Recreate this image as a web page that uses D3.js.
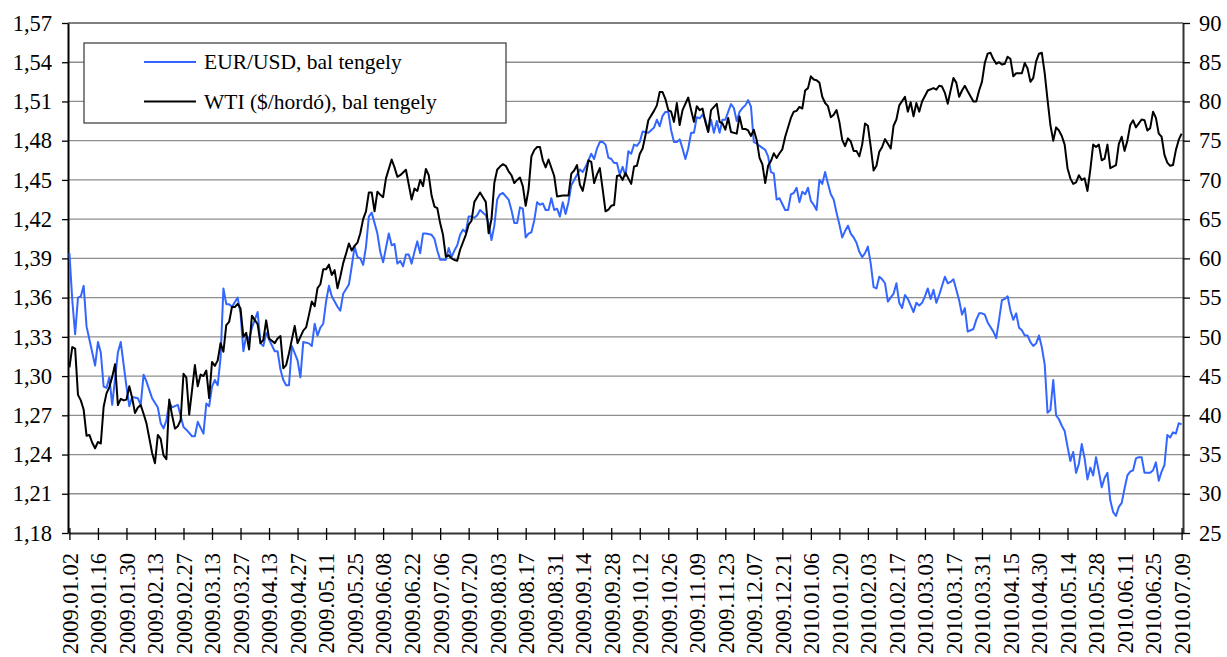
<!DOCTYPE html>
<html lang="hu">
<head>
    <meta charset="UTF-8">
    <title>EUR/USD es WTI</title>
    <script src="https://cdnjs.cloudflare.com/ajax/libs/d3/7.8.5/d3.min.js"></script>
    <style>
        body { margin: 0; background: #fff; }
        svg text { font-family: "Liberation Serif", "Times New Roman", serif; font-size: 21.5px; fill: #000; }
    </style>
</head>
<body>
<svg id="chart"></svg>
<script>

    // tick labels on the category axis, one every 10 trading days
    var xLabels = ["2009.01.02","2009.01.16","2009.01.30","2009.02.13","2009.02.27","2009.03.13","2009.03.27",
        "2009.04.13","2009.04.27","2009.05.11","2009.05.25","2009.06.08","2009.06.22","2009.07.06","2009.07.20",
        "2009.08.03","2009.08.17","2009.08.31","2009.09.14","2009.09.28","2009.10.12","2009.10.26","2009.11.09",
        "2009.11.23","2009.12.07","2009.12.21","2010.01.06","2010.01.20","2010.02.03","2010.02.17","2010.03.03",
        "2010.03.17","2010.03.31","2010.04.15","2010.04.30","2010.05.14","2010.05.28","2010.06.11","2010.06.25",
        "2010.07.09"];
    var leftTicks = [1.18,1.21,1.24,1.27,1.30,1.33,1.36,1.39,1.42,1.45,1.48,1.51,1.54,1.57];
    var rightTicks = [25,30,35,40,45,50,55,60,65,70,75,80,85,90];
    var seriesNames = ["EUR/USD, bal tengely", "WTI ($/hordó), bal tengely"];

    // [trading day index, value]
    var eurusd = [[0,1.394],[1,1.358],[2,1.332],[3,1.360],[4,1.361],[5,1.369],[6,1.338],[8,1.318],[9,1.308],[10,1.326],
        [11,1.318],[12,1.292],[13,1.291],[14,1.299],[15,1.278],[17,1.318],[18,1.326],[20,1.292],[21,1.277],[22,1.284],
        [24,1.283],[25,1.278],[26,1.301],[27,1.296],[29,1.283],[31,1.276],[32,1.264],[33,1.260],[34,1.266],[35,1.280],
        [36,1.276],[38,1.278],[40,1.261],[41,1.259],[43,1.254],[44,1.254],[45,1.265],[47,1.256],[48,1.279],[49,1.277],
        [50,1.292],[51,1.297],[52,1.293],[53,1.314],[54,1.367],[55,1.355],[56,1.355],[57,1.353],[59,1.360],[60,1.348],
        [61,1.319],[62,1.331],[63,1.328],[64,1.337],[66,1.349],[67,1.325],[68,1.323],[69,1.333],[70,1.328],[72,1.319],
        [73,1.319],[74,1.305],[75,1.297],[76,1.293],[77,1.293],[78,1.323],[80,1.312],[81,1.299],[82,1.326],[84,1.325],
        [85,1.323],[86,1.340],[87,1.331],[88,1.337],[89,1.340],[90,1.357],[91,1.369],[92,1.361],[94,1.353],[95,1.350],
        [96,1.363],[98,1.370],[99,1.384],[100,1.399],[101,1.391],[102,1.390],[103,1.385],[104,1.399],[105,1.422],[106,1.425],
        [108,1.409],[109,1.395],[110,1.387],[112,1.409],[113,1.400],[114,1.401],[115,1.386],[116,1.388],[117,1.384],[118,1.393],
        [119,1.393],[120,1.386],[121,1.395],[122,1.403],[123,1.394],[124,1.409],[125,1.409],[127,1.408],[128,1.405],[129,1.396],
        [130,1.389],[132,1.389],[133,1.398],[134,1.391],[135,1.396],[136,1.400],[137,1.408],[138,1.412],[139,1.410],[140,1.422],
        [141,1.422],[142,1.421],[143,1.423],[144,1.427],[146,1.423],[147,1.417],[148,1.404],[149,1.415],[150,1.435],[151,1.439],
        [152,1.440],[154,1.435],[155,1.427],[156,1.417],[157,1.417],[158,1.429],[159,1.428],[160,1.406],[161,1.409],[162,1.410],
        [163,1.419],[164,1.433],[165,1.431],[166,1.432],[167,1.427],[168,1.427],[169,1.436],[170,1.427],[171,1.428],[172,1.422],
        [173,1.433],[174,1.424],[175,1.433],[176,1.446],[177,1.450],[178,1.454],[179,1.458],[180,1.456],[181,1.460],[182,1.465],
        [183,1.470],[184,1.466],[185,1.474],[186,1.479],[187,1.479],[188,1.477],[189,1.467],[190,1.466],[191,1.463],[192,1.463],
        [193,1.454],[194,1.460],[195,1.453],[196,1.472],[197,1.470],[198,1.477],[199,1.476],[200,1.479],[201,1.487],[203,1.486],
        [204,1.488],[205,1.490],[206,1.496],[207,1.491],[208,1.499],[209,1.502],[210,1.502],[211,1.488],[212,1.479],[213,1.479],
        [214,1.481],[215,1.474],[216,1.466],[217,1.474],[218,1.486],[219,1.486],[220,1.498],[221,1.497],[222,1.500],[223,1.496],
        [224,1.487],[225,1.496],[226,1.486],[227,1.495],[228,1.486],[229,1.496],[230,1.496],[231,1.502],[232,1.508],[233,1.505],
        [234,1.495],[235,1.502],[236,1.505],[237,1.507],[238,1.511],[239,1.506],[240,1.479],[241,1.478],[242,1.476],[244,1.473],
        [245,1.468],[246,1.456],[247,1.455],[248,1.435],[249,1.436],[251,1.427],[252,1.427],[253,1.439],[254,1.440],[255,1.444],
        [256,1.433],[257,1.441],[258,1.439],[259,1.444],[260,1.434],[261,1.431],[262,1.427],[263,1.450],[264,1.447],[265,1.456],
        [266,1.447],[267,1.439],[268,1.435],[269,1.425],[270,1.416],[271,1.406],[272,1.411],[273,1.415],[274,1.409],[275,1.406],
        [276,1.402],[277,1.395],[278,1.391],[279,1.394],[280,1.399],[281,1.386],[282,1.368],[283,1.367],[284,1.376],[285,1.374],
        [286,1.371],[287,1.357],[288,1.360],[289,1.363],[290,1.371],[291,1.356],[292,1.352],[293,1.362],[294,1.359],[295,1.354],
        [296,1.349],[297,1.356],[298,1.354],[299,1.356],[300,1.361],[301,1.367],[302,1.359],[303,1.366],[304,1.356],[305,1.362],
        [307,1.376],[308,1.371],[309,1.372],[310,1.374],[311,1.366],[312,1.358],[313,1.347],[314,1.352],[315,1.334],[317,1.336],
        [318,1.343],[319,1.348],[320,1.348],[321,1.347],[322,1.341],[324,1.334],[325,1.329],[326,1.343],[327,1.358],[328,1.359],
        [329,1.361],[330,1.350],[331,1.343],[332,1.348],[333,1.337],[334,1.335],[335,1.331],[336,1.331],[337,1.326],[338,1.323],
        [339,1.325],[340,1.331],[341,1.322],[342,1.309],[343,1.272],[344,1.274],[345,1.297],[346,1.270],[347,1.267],[348,1.262],
        [349,1.258],[350,1.246],[351,1.235],[352,1.242],[353,1.226],[354,1.233],[355,1.248],[356,1.237],[357,1.221],[358,1.230],
        [359,1.224],[360,1.238],[361,1.227],[362,1.215],[363,1.222],[364,1.226],[365,1.205],[366,1.196],[367,1.193],[368,1.200],
        [369,1.203],[370,1.214],[371,1.224],[372,1.227],[373,1.228],[374,1.237],[375,1.238],[376,1.238],[377,1.226],[379,1.226],
        [380,1.228],[381,1.234],[382,1.220],[383,1.227],[384,1.232],[385,1.255],[386,1.253],[387,1.257],[388,1.256],[389,1.264],
        [390,1.263]];

    var wti = [[0,46.1],[1,48.7],[2,48.5],[3,42.6],[4,41.9],[5,40.7],[6,37.4],[7,37.5],[8,36.5],[9,35.8],[10,36.6],
        [11,36.4],[12,41.1],[13,42.8],[14,43.6],[15,44.9],[16,46.5],[17,41.3],[18,42.1],[19,41.9],[20,42.0],[21,43.7],
        [22,42.2],[23,40.3],[24,41.0],[25,41.3],[26,40.2],[27,39.0],[28,37.1],[29,35.2],[30,33.9],[31,37.5],[32,37.0],
        [33,34.9],[34,34.4],[35,42.0],[36,40.0],[37,38.3],[38,38.6],[39,39.4],[40,45.3],[41,44.8],[42,40.1],[43,43.2],
        [44,46.4],[45,43.7],[46,45.2],[47,45.0],[48,45.7],[49,42.2],[50,46.8],[51,46.3],[52,47.0],[53,49.2],[54,48.1],
        [55,51.5],[56,51.9],[57,53.8],[58,53.8],[59,54.2],[60,53.6],[61,50.0],[62,50.5],[63,48.4],[64,52.7],[66,51.6],
        [67,49.2],[68,49.6],[69,52.1],[70,49.8],[71,49.5],[72,49.2],[73,49.8],[74,50.1],[75,46.0],[76,46.4],[77,47.9],
        [79,51.4],[80,49.2],[81,50.0],[82,50.8],[83,51.2],[84,52.8],[85,54.5],[86,53.9],[87,56.2],[88,56.7],[89,58.6],
        [90,58.6],[91,59.2],[92,57.9],[93,58.5],[94,56.2],[95,57.7],[96,59.4],[97,60.6],[98,61.9],[99,61.0],[100,61.6],
        [101,62.0],[102,63.2],[103,65.0],[104,66.0],[105,68.4],[106,68.4],[107,66.0],[108,68.5],[109,68.1],[110,67.8],
        [111,70.2],[113,72.6],[114,71.6],[115,70.4],[116,70.6],[118,71.3],[120,67.5],[121,68.9],[122,68.6],[123,70.0],
        [124,69.2],[125,71.4],[126,70.6],[127,68.0],[128,66.6],[129,66.4],[130,64.5],[131,63.0],[132,60.2],[133,60.4],
        [134,60.0],[135,59.8],[136,59.7],[137,61.1],[139,63.0],[140,64.3],[141,64.8],[142,67.2],[143,67.8],[144,68.4],
        [145,67.8],[146,67.2],[147,63.2],[148,65.0],[149,69.6],[150,71.3],[151,71.7],[152,72.0],[153,71.8],[154,71.1],
        [155,70.6],[156,69.6],[157,70.0],[158,70.3],[159,69.2],[160,66.7],[161,68.8],[162,73.0],[163,73.8],[164,74.2],
        [165,74.2],[166,72.5],[167,71.6],[168,72.6],[170,70.5],[171,67.9],[173,68.0],[175,68.0],[176,70.8],[177,71.2],
        [178,71.9],[179,69.4],[180,68.6],[181,70.4],[182,72.5],[183,72.3],[184,69.6],[185,70.7],[186,71.5],[187,68.8],
        [188,66.0],[189,66.2],[190,66.7],[191,66.8],[192,70.5],[193,70.6],[194,70.0],[195,70.9],[197,69.5],[198,71.7],
        [199,71.8],[200,73.3],[201,74.0],[202,75.7],[203,77.6],[205,78.8],[206,79.5],[207,81.2],[208,81.2],[209,80.3],
        [210,78.9],[211,78.7],[212,77.4],[213,79.8],[214,77.0],[215,78.9],[217,80.5],[218,78.9],[219,77.4],[220,79.4],
        [221,78.9],[222,79.1],[223,77.4],[224,76.1],[225,78.9],[227,79.7],[228,77.4],[229,77.2],[230,76.4],[231,77.9],
        [232,76.1],[234,75.9],[235,78.1],[236,76.5],[237,76.5],[238,76.3],[239,75.6],[240,76.4],[241,75.1],[242,72.8],
        [243,72.0],[244,69.6],[245,71.8],[246,72.4],[247,73.4],[248,72.8],[249,73.4],[250,73.9],[251,75.5],[253,77.9],
        [254,78.7],[255,78.8],[256,79.3],[257,79.1],[258,81.4],[259,81.7],[260,83.2],[261,82.8],[262,82.7],[263,82.4],
        [264,80.6],[265,79.8],[266,79.4],[267,78.0],[268,78.3],[269,78.9],[270,77.4],[271,75.1],[272,74.3],[273,75.3],
        [274,74.9],[275,73.7],[276,73.7],[277,73.0],[278,74.5],[279,77.2],[280,76.9],[281,74.2],[282,71.2],[283,71.8],
        [284,73.6],[285,74.2],[286,75.2],[287,74.6],[288,74.0],[289,76.9],[290,77.7],[291,79.5],[293,80.6],[294,78.7],
        [295,79.9],[296,78.1],[297,79.8],[298,78.7],[299,80.0],[300,80.7],[301,81.4],[303,81.7],[304,81.5],[305,82.0],
        [306,81.9],[307,81.1],[308,79.7],[309,81.4],[310,83.0],[311,82.4],[312,80.6],[313,81.4],[314,82.0],[315,81.3],
        [317,80.0],[318,80.0],[319,81.4],[320,82.5],[321,84.9],[322,86.1],[323,86.2],[324,85.4],[325,84.8],[326,85.0],
        [327,84.7],[328,84.8],[329,85.7],[330,85.4],[331,83.2],[332,83.6],[333,83.6],[334,83.6],[335,84.9],[336,84.2],
        [337,82.5],[338,83.0],[339,85.1],[340,86.1],[341,86.2],[342,83.6],[343,80.2],[344,77.0],[345,75.0],[346,76.7],
        [347,76.3],[348,75.6],[349,74.5],[350,71.5],[351,70.2],[352,69.5],[353,69.7],[354,70.6],[355,70.0],[356,70.2],
        [357,68.6],[358,71.3],[359,74.5],[360,74.2],[361,74.5],[362,72.5],[363,72.7],[364,74.5],[365,71.5],[366,71.7],
        [367,71.9],[368,74.6],[369,75.5],[370,73.7],[371,75.0],[372,77.0],[373,77.6],[374,76.7],[375,77.2],[376,77.7],
        [377,77.6],[378,76.3],[379,76.6],[380,78.7],[381,77.9],[382,75.9],[383,75.5],[384,73.2],[385,72.2],[386,71.8],
        [387,71.9],[388,73.8],[389,75.1],[390,75.9]];

    var width = 1227, height = 657;
    var plotLeft = 68, plotRight = 1183, plotTop = 23, plotBottom = 533;
    var nDays = xLabels.length * 10 - 9;   // 391 trading days

    var svg = d3.select('#chart').attr('width', width).attr('height', height);

    var x = d3.scaleLinear().domain([-0.5, nDays - 0.5]).range([plotLeft, plotRight]);
    var yL = d3.scaleLinear().domain([1.18, 1.57]).range([plotBottom, plotTop]);
    var yR = d3.scaleLinear().domain([25, 90]).range([plotBottom, plotTop]);

    // horizontal grid
    svg.append('g').selectAll('line')
        .data(leftTicks.slice(1, -1))
        .enter().append('line')
        .attr('x1', plotLeft).attr('x2', plotRight)
        .attr('y1', function (d) { return yL(d); }).attr('y2', function (d) { return yL(d); })
        .style('stroke', '#8e8e8e').style('stroke-width', 1.3);

    // top frame line
    svg.append('line').attr('x1', plotLeft).attr('x2', plotRight).attr('y1', plotTop).attr('y2', plotTop)
        .style('stroke', '#000').style('stroke-width', 1.2);

    var gL = svg.append('g').attr('transform', 'translate(' + plotLeft + ',0)')
        .call(d3.axisLeft(yL).tickValues(leftTicks).tickSizeInner(6).tickSizeOuter(0).tickPadding(10)
            .tickFormat(function (d) { return d.toFixed(2).replace('.', ','); }));
    gL.select('.domain').style('stroke', '#000').style('stroke-width', 2);
    gL.selectAll('.tick line').style('stroke', '#000').style('stroke-width', 1.3);

    var gR = svg.append('g').attr('transform', 'translate(' + plotRight + ',0)')
        .call(d3.axisRight(yR).tickValues(rightTicks).tickSizeInner(7).tickSizeOuter(0).tickPadding(9));
    gR.select('.domain').style('stroke', '#333').style('stroke-width', 2);
    gR.selectAll('.tick line').style('stroke', '#000').style('stroke-width', 1.3);

    var gB = svg.append('g').attr('transform', 'translate(0,' + plotBottom + ')')
        .call(d3.axisBottom(x).tickValues(d3.range(0, nDays, 10)).tickSizeInner(7).tickSizeOuter(0)
            .tickFormat(function (d) { return xLabels[d / 10]; }));
    gB.select('.domain').style('stroke', '#333').style('stroke-width', 2);
    gB.selectAll('.tick line').attr('y1', -5).style('stroke', '#000').style('stroke-width', 1.3);
    gB.selectAll('.tick text')
        .attr('transform', 'rotate(-90)')
        .attr('x', -20).attr('y', 0).attr('dy', '0.35em')
        .style('text-anchor', 'end');

    svg.selectAll('.tick text').style('font-family', '"Liberation Serif", "Times New Roman", serif')
        .style('font-size', '22.5px').style('fill', '#000');

    var lineL = d3.line().x(function (d) { return x(d[0]); }).y(function (d) { return yL(d[1]); });
    var lineR = d3.line().x(function (d) { return x(d[0]); }).y(function (d) { return yR(d[1]); });

    svg.append('path').datum(eurusd).attr('d', lineL)
        .style('fill', 'none').style('stroke', '#3366ff').style('stroke-width', 2).style('stroke-linejoin', 'round');
    svg.append('path').datum(wti).attr('d', lineR)
        .style('fill', 'none').style('stroke', '#000').style('stroke-width', 2).style('stroke-linejoin', 'round');

    // legend
    var lg = svg.append('g');
    lg.append('rect').attr('x', 84).attr('y', 43).attr('width', 422).attr('height', 80)
        .style('fill', '#fff').style('stroke', '#444').style('stroke-width', 1.3);
    var legendColors = ['#3366ff', '#000'];
    seriesNames.forEach(function (name, i) {
        var ly = 62 + i * 39.5;
        lg.append('line').attr('x1', 144).attr('x2', 196).attr('y1', ly).attr('y2', ly)
            .style('stroke', legendColors[i]).style('stroke-width', 2);
        lg.append('text').attr('x', 204).attr('y', ly + 7).text(name);
    });

</script>
</body>
</html>
